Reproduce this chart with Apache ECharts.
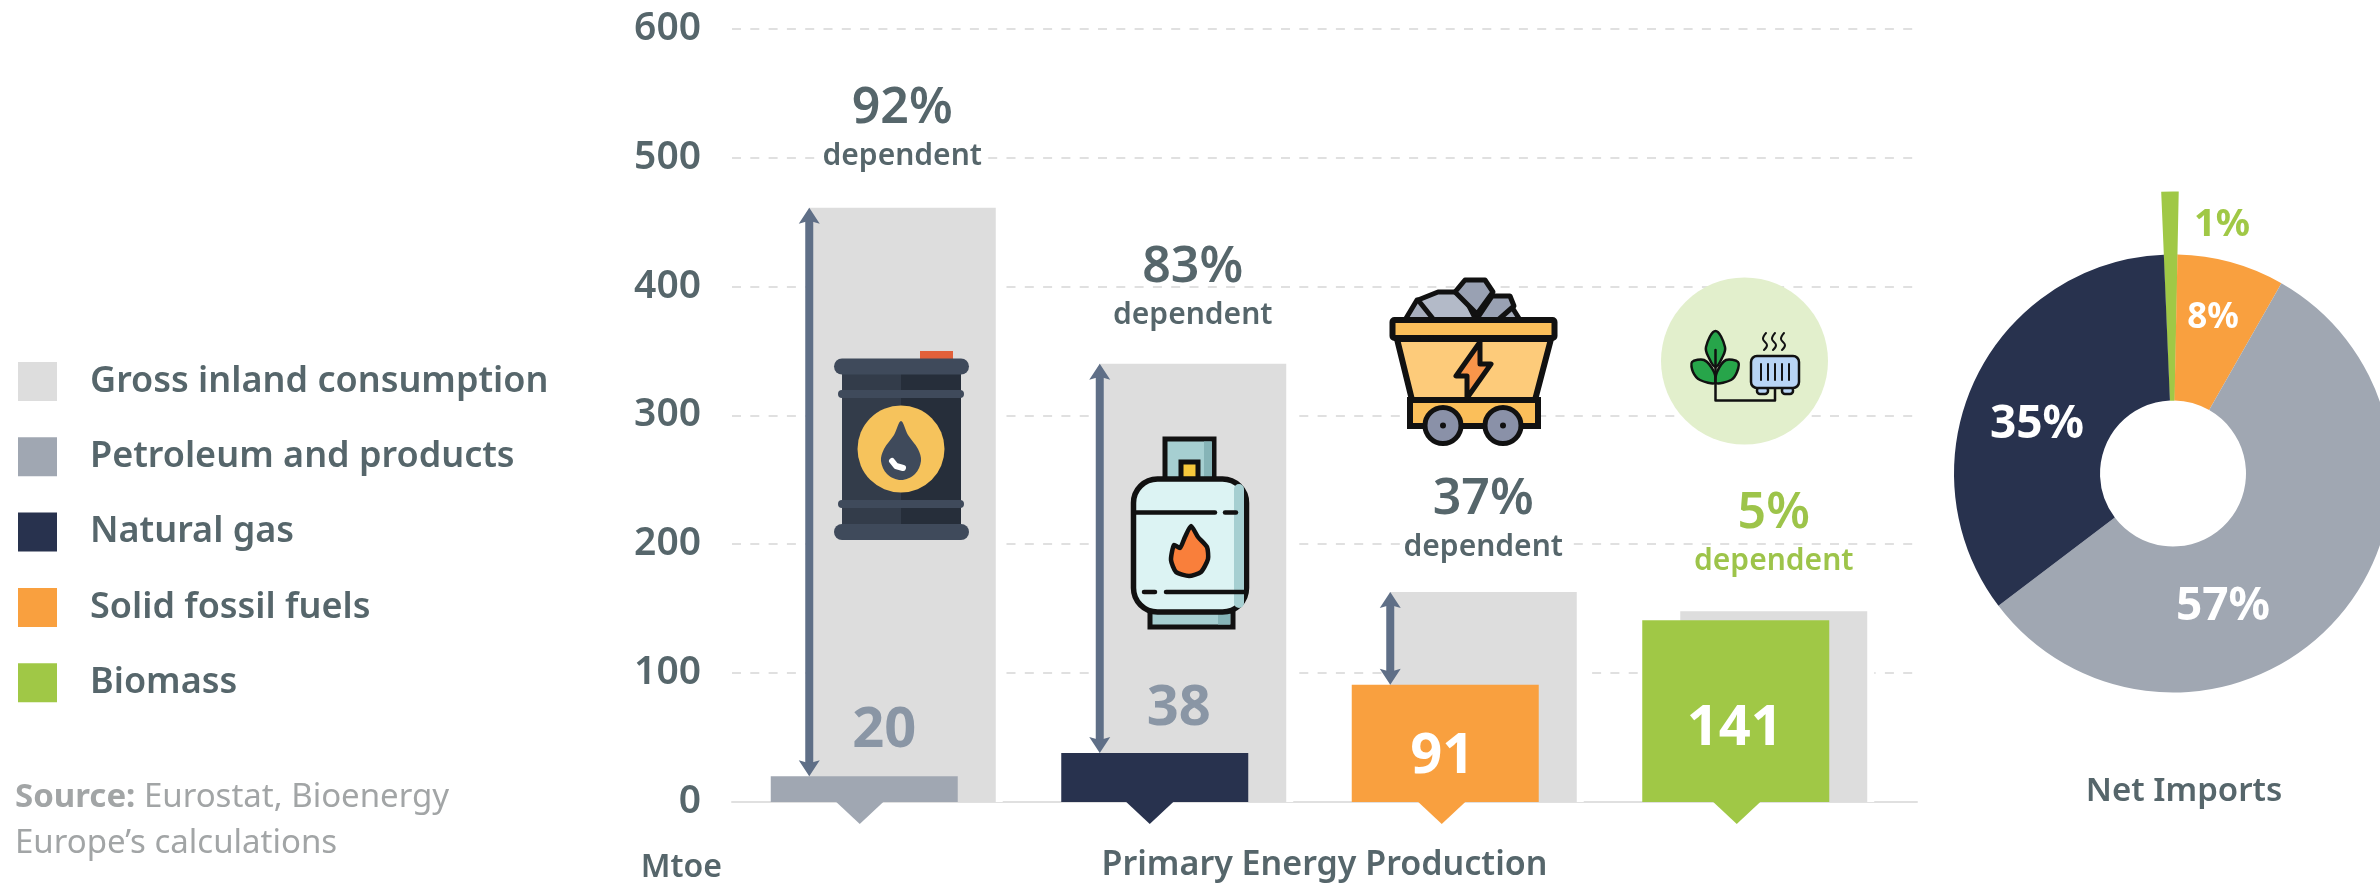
<!DOCTYPE html>
<html><head><meta charset="utf-8">
<style>html,body{margin:0;padding:0;background:#fff}#c{width:2380px;height:883px}</style>
<script src="https://cdn.jsdelivr.net/npm/echarts@6/dist/echarts.min.js"></script>
</head><body><div id="c"></div>
<script>
const categories = ['Petroleum and products','Natural gas','Solid fossil fuels','Biomass'];
const production = [20,38,91,141];
const grossConsumption = [461,340,163,148];
const dependency = [92,83,37,5];
const arrowFrom = [20,38,91];
const arrowTo = [461,340,163];
const importNames = ['Biomass','Solid fossil fuels','Petroleum and products','Natural gas'];
const importShares = [1,8,57,35];
const yTicks = [0,100,200,300,400,500,600];

const colors = {'Petroleum and products':'#a0a7b2','Natural gas':'#28324e','Solid fossil fuels':'#f9a03f','Biomass':'#a0c846'};
const TXT='#56666b', FONT='"Noto Sans"', GRID='#e0e0e0', ARROW='#5f6f87';

const prodLabel = [
 {position:'top',distance:0,offset:[20,-17],color:'#8a96a5'},
 {position:'top',distance:0,offset:[24,-16],color:'#8a96a5'},
 {position:'inside',offset:[-3,14],color:'#fff'},
 {position:'inside',offset:[-1,18],color:'#fff'}];
const grossDist=[28,25,21,27];
const triDx=[-23.5,-24,-22.5,-18];
const pieLabelPos={'Biomass':[2222,225,38,'#a0c846'],'Solid fossil fuels':[2213,318,35,'#fff'],'Petroleum and products':[2223,607,46,'#fff'],'Natural gas':[2037,425,46,'#fff']};

// ---- decorative icons (plain graphic shapes) ----
const K='#111';
function r(x,y,w,h,fill,rad,stroke,lw){return {type:'rect',z:50,shape:{x,y,width:w,height:h,r:rad||0},style:{fill,stroke:stroke||null,lineWidth:lw||0}};}
function c(cx,cy,rr,fill,stroke,lw){return {type:'circle',z:50,shape:{cx,cy,r:rr},style:{fill,stroke:stroke||null,lineWidth:lw||0}};}
function p(points,fill,stroke,lw,smooth){return {type:'polygon',z:50,shape:{points,smooth:smooth||0},style:{fill,stroke:stroke||null,lineWidth:lw||0,lineJoin:'round'}};}
function l(points,stroke,lw,smooth){return {type:'polyline',z:50,shape:{points,smooth:smooth||0},style:{fill:null,stroke,lineWidth:lw,lineCap:'round',lineJoin:'round'}};}
const barrel=[
 r(920,351,33,9,'#e2603a'),
 r(842,372,59,154,'#333c4a'), r(901,372,60,154,'#262e3a'),
 r(834,358.5,135,16,'#3f4a5b',8), r(834,524,135,16,'#3f4a5b',8),
 r(838,390,126,8,'#3f4a5b',4), r(838,500,126,8,'#3f4a5b',4),
 c(901,449,43.5,'#f6c35c'),
 p([[901,421],[908,435],[918,449],[921,461],[915,474],[901,480],[887,474],[881,461],[884,449],[894,435]],'#3f4a5b',null,0,0.35),
 l([[892,461],[896,466],[903,468]],'#fff',6)
];
const cyl=[
 r(1165,439,49,42,'#a6cfd1',0,K,5), r(1204,441.5,8,37,'#86b4b7'),
 r(1181,462,17,18,'#f6c83c',0,K,5),
 r(1150,611,83,16,'#a6cfd1',0,K,5), r(1218,613.5,12,11,'#86b4b7'),
 r(1133.5,479,113,133,'#dcf3f3',24,K,5.5), r(1234,484,10,124,'#a6cfd1',5),
 l([[1136,512.5],[1215,512.5]],K,4.5), l([[1225,512.5],[1236,512.5]],K,4.5),
 l([[1144,592],[1155,592]],K,4.5), l([[1166,592],[1245,592]],K,4.5),
 p([[1191,526],[1198,537],[1207,547],[1208,559],[1201,572],[1189,576],[1176,572],[1171,560],[1174,545],[1180,548],[1185,537]],'#f97f3b',K,4.5,0.2)
];
const cart=[
 p([[1405,320],[1417,300],[1434,302],[1440,320]],'#a7aebd',K,5),
 p([[1434,320],[1418,300],[1438,292],[1462,292],[1476,320]],'#b3bac8',K,5),
 p([[1520,320],[1510,304],[1492,304],[1480,320]],'#a7aebd',K,5),
 p([[1476,320],[1492,296],[1510,296],[1514,306],[1498,320]],'#99a1b3',K,5),
 p([[1455,292],[1465,280],[1485,280],[1493,292],[1477,314]],'#99a1b3',K,5),
 p([[1397,339],[1551,339],[1535,400],[1412,400]],'#fdcb7a',K,6),
 r(1410,400,128,26,'#fbbf5a',0,K,6),
 r(1392.5,320,162,18,'#fbbf5a',2,K,6),
 l([[1396,338.5],[1418,338.5]],K,5), c(1431,338,3,K), l([[1445,338.5],[1551,338.5]],K,5),
 p([[1480,342],[1456,376],[1467,376],[1467,398],[1491,364],[1480,364]],'#f9954a',K,5),
 c(1443,425.5,18,'#8a91a8',K,5), c(1443,425.5,3,K), c(1503,425.5,18,'#8a91a8',K,5), c(1503,425.5,3,K)
];
const bio=[
 c(1744.5,361,83.5,'#e2efcc'),
 p([[1715.5,331],[1725,347],[1722,358],[1715.5,367],[1709,358],[1706,347]],'#27a54a',K,2.5,0.4),
 p([[1692,362],[1704,360],[1714,372],[1715,383],[1700,380],[1693,372]],'#27a54a',K,2.5,0.3),
 p([[1738,362],[1726,360],[1717,372],[1716,383],[1731,380],[1737,372]],'#27a54a',K,2.5,0.3),
 l([[1715.5,350],[1715.5,400.5],[1775,400.5],[1775,388]],K,2.5),
 r(1757,387,11,7,'#b8d4f5',3,K,2.5), r(1782,387,11,7,'#b8d4f5',3,K,2.5),
 r(1751,356,48,32,'#b8d4f5',6,K,2.5),
 l([[1761,364],[1761,380]],K,2), l([[1768,364],[1768,380]],K,2), l([[1775,364],[1775,380]],K,2), l([[1782,364],[1782,380]],K,2), l([[1789,364],[1789,380]],K,2),
 l([[1766,333],[1763,339],[1767,345],[1764,350]],K,2,0.4), l([[1775,333],[1772,339],[1776,345],[1773,350]],K,2,0.4), l([[1784,333],[1781,339],[1785,345],[1782,350]],K,2,0.4)
];
const sourceText={type:'text',z:50,x:15,y:775,style:{
 text:'{b|Source:} Eurostat, Bioenergy\nEurope’s calculations',
 fontFamily:FONT,fontSize:33,fill:'#a2a5a6',lineHeight:46,
 rich:{b:{fontFamily:FONT,fontSize:33,fontWeight:700,fill:'#a2a5a6',lineHeight:46}}}};
const netImports={type:'text',z:50,x:2184,y:792,style:{text:'Net Imports',fontFamily:FONT,fontSize:33,fontWeight:600,fill:TXT,align:'center',verticalAlign:'middle'}};

const option={
 animation:false,backgroundColor:'#fff',
 textStyle:{fontFamily:FONT},
 legend:{orient:'vertical',left:18,top:362,padding:0,itemWidth:39,itemHeight:39,itemGap:36.3,icon:'rect',
  data:['Gross inland consumption','Petroleum and products','Natural gas','Solid fossil fuels','Biomass'],
  textStyle:{fontFamily:FONT,fontSize:36,fontWeight:600,color:TXT,lineHeight:39,padding:[0,0,0,28]},selectedMode:false},
 grid:[{left:732,width:1185,top:28.7,height:773.3,outerBoundsMode:'none'},{left:738,width:1162,top:28.7,height:773.3,outerBoundsMode:'none'}],
 xAxis:[
  {gridIndex:0,type:'value',min:0,max:1,splitLine:{show:false},axisTick:{show:false},axisLabel:{show:false},
   axisLine:{show:true,onZero:false,lineStyle:{color:GRID,width:2}},
   name:'Primary Energy Production',nameLocation:'middle',nameGap:46,
   nameTextStyle:{fontFamily:FONT,fontSize:34,fontWeight:600,color:TXT}},
  {gridIndex:1,type:'category',data:categories,show:false}
 ],
 yAxis:[
  {gridIndex:0,type:'value',min:yTicks[0],max:yTicks[yTicks.length-1],interval:100,
   axisLine:{show:false},axisTick:{show:false},
   axisLabel:{fontFamily:FONT,fontSize:39,fontWeight:600,color:TXT,margin:31},
   splitLine:{show:true,lineStyle:{color:GRID,width:2,type:[9,9.3]}},
   name:'Mtoe',nameLocation:'start',nameGap:50,
   nameTextStyle:{fontFamily:FONT,fontSize:32,fontWeight:600,color:TXT,align:'right',padding:[0,10,0,0]}},
  {gridIndex:1,type:'value',min:0,max:600,show:false}
 ],
 series:[
  {type:'bar',name:'Primary Energy Production',xAxisIndex:1,yAxisIndex:1,barWidth:187,barGap:'-79.68%',z:4,
   data:production.map((v,i)=>({value:v,itemStyle:{color:colors[categories[i]]},
     label:{show:true,position:prodLabel[i].position,distance:prodLabel[i].distance,offset:prodLabel[i].offset,color:prodLabel[i].color,
       fontFamily:FONT,fontSize:56,fontWeight:700}}))},
  {type:'bar',name:'Gross inland consumption',xAxisIndex:1,yAxisIndex:1,barWidth:187,z:3,
   itemStyle:{color:'#dddddd',shadowColor:'#fff',shadowBlur:0,shadowOffsetX:7},
   data:grossConsumption.map((v,i)=>{const col=i===3?'#9dc44a':TXT;return {value:v,
     label:{show:true,position:'top',distance:grossDist[i],formatter:`{p|${dependency[i]}%}\n{d|dependent}`,
      rich:{p:{fontFamily:FONT,fontSize:50,fontWeight:600,color:col,lineHeight:50,align:'center'},
            d:{fontFamily:FONT,fontSize:30,fontWeight:600,color:col,lineHeight:46,align:'center',backgroundColor:'#fff',padding:[0,2]}}}};})},
  {type:'pictorialBar',name:'Pointer',xAxisIndex:1,yAxisIndex:1,z:4,symbol:'path://M0 0L2 0L1 1z',symbolSize:[47,22],symbolPosition:'start',silent:true,clip:false,
   data:production.map((v,i)=>({value:v,symbolOffset:[triDx[i],'100%'],itemStyle:{color:colors[categories[i]]}}))},
  {type:'custom',name:'Import gap',xAxisIndex:1,yAxisIndex:1,z:5,silent:true,clip:false,
   data:arrowFrom.map((v,i)=>[i,v,arrowTo[i]]),encode:{x:0,y:[1,2]},
   renderItem(params,api){
     const a=api.coord([api.value(0),api.value(1)]),b=api.coord([api.value(0),api.value(2)]);
     const x=a[0]-74,y0=a[1],y1=b[1];
     return {type:'group',children:[
       {type:'rect',shape:{x:x-4,y:y1+8,width:8,height:y0-y1-16},style:{fill:ARROW}},
       {type:'polygon',shape:{points:[[x,y1],[x+10.5,y1+16],[x,y1+13],[x-10.5,y1+16]]},style:{fill:ARROW}},
       {type:'polygon',shape:{points:[[x,y0],[x+10.5,y0-16],[x,y0-13],[x-10.5,y0-16]]},style:{fill:ARROW}}
     ]};
   }},
  {type:'pie',name:'Net Imports',center:[2173,473.5],radius:[73,219],startAngle:92.4,avoidLabelOverlap:false,z:3,
   data:importNames.map((n,i)=>({name:n,value:importShares[i],itemStyle:{color:colors[n]}})),
   label:{show:true,position:'inside',formatter:'{c}%',fontFamily:FONT,fontWeight:700},
   labelLine:{show:false},
   labelLayout(params){const q=pieLabelPos[importNames[params.dataIndex]];return {x:q[0],y:q[1],align:'center',verticalAlign:'middle'};},
   emphasis:{disabled:true}},
  {type:'pie',name:'Net Imports wedge',center:[2173,473.5],radius:[73,282],startAngle:92.4,z:2,silent:true,
   data:importNames.map((n,i)=>({name:n,value:importShares[i],itemStyle:{color:n==='Biomass'?colors[n]:'rgba(0,0,0,0)'}})),
   label:{show:false},labelLine:{show:false}}
 ],
 graphic:{elements:[].concat(barrel,cyl,cart,bio,[sourceText,netImports])}
};
option.series[4].data.forEach((d)=>{const q=pieLabelPos[d.name];d.label={fontSize:q[2],color:q[3]};});
const chart=echarts.init(document.getElementById('c'),null,{renderer:'canvas'});
chart.setOption(option);
</script></body></html>
